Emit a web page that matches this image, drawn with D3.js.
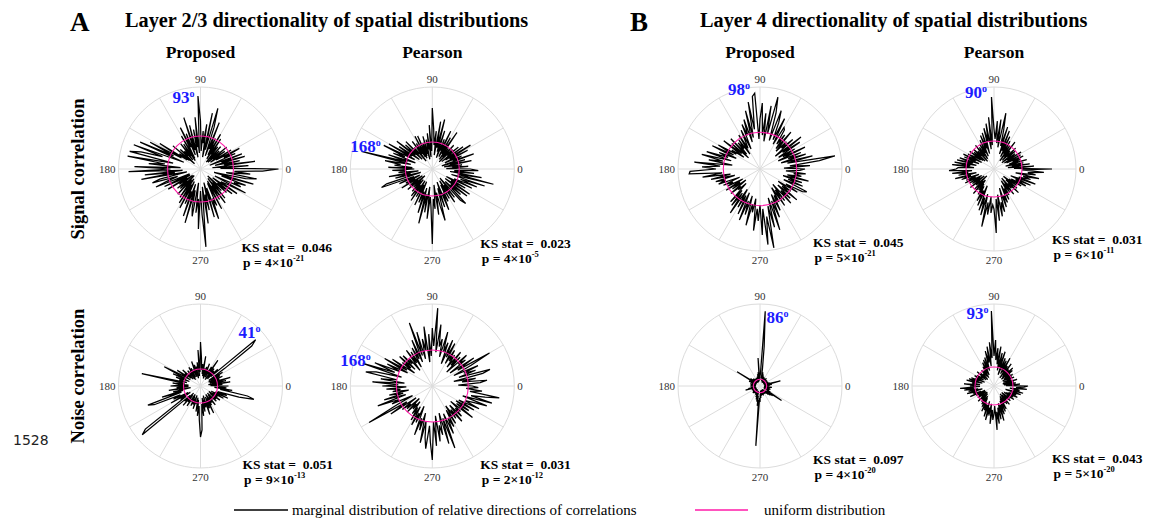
<!DOCTYPE html>
<html><head><meta charset="utf-8">
<script src="https://cdn.jsdelivr.net/npm/d3@7"></script>
<style>
body{margin:0;background:#fff}
svg text{font-family:"Liberation Serif","Times New Roman",serif}
</style>
</head><body>
<svg id="chart" width="1160" height="520"></svg>
<script>
// ---- data ----
const angleStep = 2;                         // bin width, degrees
const binAngles = d3.range(0, 360, angleStep);
const axisTickAngles = [0, 90, 180, 270];
const axisTickLabels = ["0", "90", "180", "270"];
const rowLabels = ["Signal correlation", "Noise correlation"];
const colLabels = ["Proposed", "Pearson"];
const panelLetters = ["A", "B"];
const panelTitles = ["Layer 2/3 directionality of spatial distributions", "Layer 4 directionality of spatial distributions"];
const legendLabels = ["marginal distribution of relative directions of correlations", "uniform distribution"];

const l23SignalProposed = [
78,20,48,12,55,24,40,15,46,22,44,10,38,26,44,
18,36,12,30,16,34,10,26,14,30,9,28,18,36,12,
40,16,34,22,50,14,44,63,20,57,12,45,26,38,18,
48,73,16,52,22,40,12,45,20,54,15,38,24,46,12,
38,10,30,16,32,12,24,18,28,8,36,14,26,16,48,
22,57,30,66,18,71,40,62,73,28,74,36,52,20,66,
30,72,18,56,26,60,14,42,50,24,36,48,12,40,26,
12,38,16,26,10,30,18,28,9,34,14,22,35,12,40,
18,44,14,38,24,50,16,56,22,40,48,14,44,30,60,
22,46,78,18,55,26,42,14,50,20,53,32,40,16,45,
14,36,20,42,12,38,18,30,10,35,22,40,15,44,24,
30,51,16,44,36,48,22,55,14,46,57,26,50,34,62];
const l23SignalPearson = [
38,14,36,20,30,12,40,18,34,10,44,22,32,14,40,
20,45,16,38,12,34,20,28,10,32,16,26,12,44,18,
36,14,42,20,32,12,40,18,51,22,48,14,38,24,40,
61,18,44,12,36,20,30,10,34,16,28,14,36,12,37,
14,30,18,34,10,28,20,38,14,36,22,45,16,40,24,
50,20,54,30,42,18,46,26,73,22,48,32,38,20,44,
18,40,26,34,14,44,22,38,12,48,54,20,36,14,30,
20,36,12,28,18,32,10,26,16,30,14,34,20,38,14,
32,18,40,14,36,24,46,20,56,26,44,18,50,28,38,
75,30,40,16,46,24,38,53,20,40,14,44,26,36,18,
34,14,40,20,36,12,42,48,18,38,24,44,16,45,22,
38,16,44,24,48,30,55,20,63,26,50,18,42,22,46];
const l23NoiseProposed = [
28,10,22,14,30,8,26,12,31,10,20,14,24,9,22,
12,26,10,30,65,72,14,24,10,20,12,22,8,31,14,
22,10,18,12,24,8,20,14,18,10,30,12,22,16,28,
44,14,36,10,24,16,20,8,22,12,26,10,18,14,20,
10,22,12,18,8,20,14,16,10,24,12,20,16,28,12,
24,41,16,30,12,26,18,22,14,60,20,16,28,12,22,
30,12,24,16,32,10,28,18,40,20,56,50,22,30,14,
34,12,24,18,70,76,14,22,10,26,12,20,16,24,10,
18,12,22,14,20,10,24,16,18,12,26,14,30,20,34,
51,44,18,30,12,26,14,22,10,30,16,24,12,30,14,
22,10,20,14,24,12,18,10,22,16,20,12,24,10,20,
14,26,12,30,16,28,18,40,55,48,20,32,14,26,18];
const l23NoisePearson = [
40,26,48,55,30,44,22,52,60,28,46,34,50,24,44,
66,30,50,22,42,34,46,20,40,28,44,24,38,30,42,
26,48,32,50,24,46,36,56,30,48,40,62,34,78,40,
58,30,52,24,60,36,48,28,56,32,67,26,50,30,43,
22,40,28,44,20,36,30,42,24,44,28,38,22,48,30,
55,28,50,36,62,40,73,32,58,68,36,52,28,60,34,
50,26,46,32,40,24,44,30,50,28,58,36,44,22,40,
73,30,50,20,38,28,34,18,36,24,30,20,34,26,40,
24,44,30,40,22,52,34,46,28,58,36,52,63,40,56,
74,36,60,30,56,40,50,28,60,34,66,30,52,36,46,
28,44,24,40,30,46,26,42,32,38,24,51,30,44,28,
48,30,52,36,44,58,32,62,40,54,68,38,50,34,46];
const l4SignalProposed = [
45,24,50,30,60,76,28,54,22,48,30,44,20,50,26,
40,22,48,28,52,20,44,30,38,24,48,26,42,30,46,
48,28,56,32,50,62,30,58,74,36,64,28,56,34,66,
50,30,76,73,40,68,32,60,28,52,36,48,22,43,30,
24,40,18,36,26,34,20,42,16,38,24,46,20,34,28,
48,30,53,26,44,34,56,30,60,38,52,28,66,40,58,
44,70,71,38,58,30,50,26,46,36,44,22,40,30,36,
20,40,24,34,18,38,26,30,20,44,28,46,30,53,24,
44,30,50,26,55,34,48,28,58,36,44,30,62,40,52,
36,66,40,76,48,80,38,60,30,64,34,52,28,46,30,
38,22,44,26,40,20,46,30,42,24,48,28,38,22,44,
30,48,52,26,46,30,44,24,50,28,42,34,46,26,40];
const l4SignalPearson = [
58,20,40,14,36,18,30,12,34,16,28,20,32,14,30,
12,32,16,26,10,28,18,30,12,24,16,34,10,28,18,
32,14,36,20,41,16,44,24,40,57,22,50,26,48,30,
40,72,24,52,20,46,28,42,16,38,22,36,14,32,18,
28,12,26,16,30,10,24,18,28,12,26,14,30,16,24,
30,14,34,20,32,16,36,22,38,18,40,24,42,20,36,
38,45,22,42,26,36,18,40,24,34,16,30,20,32,14,
28,16,26,12,30,18,24,10,28,16,32,14,26,18,30,
20,36,24,40,18,44,30,48,26,59,34,46,28,44,36,
40,64,30,52,26,48,34,44,20,40,28,36,18,34,22,
30,14,28,18,32,12,26,20,34,16,30,12,28,18,32,
20,36,24,40,18,44,26,38,30,46,22,42,34,50,28];
const l4NoiseProposed = [
8,4,10,5,12,6,9,21,6,10,4,8,5,9,4,
7,5,8,4,9,6,7,4,8,5,10,4,7,6,9,
5,8,4,10,6,9,5,12,7,14,8,18,40,75,12,
10,6,28,8,14,5,12,6,10,4,8,5,9,4,7,
5,8,4,9,6,7,5,10,4,8,6,12,5,10,27,
6,10,4,12,5,9,6,8,4,10,5,7,6,9,5,
10,4,8,5,9,6,12,5,15,6,8,4,9,5,7,
4,8,5,9,4,7,6,10,5,8,4,9,6,7,5,
9,5,10,6,8,12,5,14,7,16,10,20,14,60,12,
16,8,12,5,10,6,9,4,8,5,10,4,7,6,9,
5,8,4,9,6,10,5,12,6,14,8,16,10,26,8,
12,5,10,4,9,6,11,5,8,4,10,6,12,5,9];
const l4NoisePearson = [
34,12,26,10,22,14,20,9,24,12,18,10,22,14,20,
10,22,12,20,14,24,10,26,12,22,14,28,10,24,16,
32,14,28,18,30,12,36,20,34,16,40,22,38,26,46,
30,75,28,44,20,40,24,36,16,30,18,28,12,26,14,
22,10,18,12,20,14,16,9,18,12,22,10,16,14,20,
12,22,14,20,10,24,16,26,12,28,18,22,14,30,18,
24,14,34,20,30,16,26,12,28,18,22,14,26,10,20,
12,18,10,20,14,16,9,22,12,18,10,20,14,22,12,
24,14,28,18,26,20,32,16,35,22,30,18,38,24,34,
28,20,44,26,38,22,34,18,36,20,30,16,28,14,26,
12,20,14,22,10,24,12,18,14,22,10,20,16,24,12,
22,14,26,16,24,18,28,12,30,20,26,16,33,22,30];

const seriesList = [l23SignalProposed, l23SignalPearson, l23NoiseProposed, l23NoisePearson,
                    l4SignalProposed, l4SignalPearson, l4NoiseProposed, l4NoisePearson];
const uniformLevels = [33, 27, 17, 36, 36.7, 28, 6.7, 19];
const radialMax = 82;
const peakAngles = [93, 168, 41, 168, 98, 90, 86, 93];
const ksStats = ["0.046", "0.023", "0.051", "0.031", "0.045", "0.031", "0.097", "0.043"];
const pMantissas = ["4", "4", "9", "2", "5", "6", "4", "5"];
const pExponents = ["-21", "-5", "-13", "-12", "-21", "-11", "-20", "-20"];

// ---- layout ----
const R = 82;
const colX = [200.5, 432.3, 760, 994];
const rowY = [169, 386];
const peakLabelOffset = [[-28,-66.5],[-82,-17.5],[38,-48],[-92,-20.5],[-32,-74],[-29,-71.5],[6.5,-63.5],[-27.5,-67]];
const ksOffset = [[41,83],[48,79],[42,83],[48,83],[53,78],[58,75],[53,78],[58,77]];
const magenta = "#ff1aa8";
const blue = "#1c1cff";

const svg = d3.select("#chart");
const toRad = d => d * Math.PI / 180;

seriesList.forEach((vals, i) => {
  const layer = i < 4 ? 0 : 1;
  const row = (i >> 1) & 1;
  const col = i & 1;
  const cx = colX[layer * 2 + col], cy = rowY[row];
  const g = svg.append("g").attr("transform", `translate(${cx},${cy})`);
  const r = d3.scaleLinear().domain([0, radialMax]).range([0, R]);

  g.selectAll("line.spoke").data(d3.range(0, 360, 30)).join("line")
    .attr("x1", 0).attr("y1", 0)
    .attr("x2", d => R * Math.cos(toRad(d))).attr("y2", d => -R * Math.sin(toRad(d)))
    .attr("stroke", "#dcdcdc").attr("stroke-width", 1);
  g.append("circle").attr("r", R).attr("fill", "none").attr("stroke", "#dcdcdc").attr("stroke-width", 1);

  axisTickAngles.forEach((a, k) => {
    const t = g.append("text").text(axisTickLabels[k]).attr("font-size", 11).attr("fill", "#333");
    if (a === 0) t.attr("x", R + 3).attr("y", 4).attr("text-anchor", "start");
    if (a === 90) t.attr("x", 0).attr("y", -R - 4).attr("text-anchor", "middle");
    if (a === 180) t.attr("x", -R - 3).attr("y", 4).attr("text-anchor", "end");
    if (a === 270) t.attr("x", 0).attr("y", R + 12.5).attr("text-anchor", "middle");
  });

  const pts = vals.map((v, k) => ({a: binAngles[k], v}));
  const line = d3.lineRadial()
    .angle(d => toRad(90 - d.a))
    .radius(d => r(d.v))
    .curve(d3.curveLinearClosed);
  g.append("path").attr("d", line(pts)).attr("fill", "none")
    .attr("stroke", "#000").attr("stroke-width", 1.25).attr("stroke-linejoin", "miter");

  g.append("circle").attr("r", r(uniformLevels[i])).attr("fill", "none")
    .attr("stroke", magenta).attr("stroke-width", 1.1);

  const pl = g.append("text").attr("x", peakLabelOffset[i][0]).attr("y", peakLabelOffset[i][1])
    .attr("font-size", 17).attr("font-weight", "bold").attr("fill", blue);
  pl.append("tspan").text(peakAngles[i]);
  pl.append("tspan").text("o").attr("font-size", 10).attr("dy", -6);

  const [kx, ky] = ksOffset[i];
  g.append("text").attr("x", kx).attr("y", ky).attr("font-size", 13.5).attr("font-weight", "bold")
    .style("white-space", "pre").text("KS stat =  " + ksStats[i]);
  const pt = g.append("text").attr("x", kx + 1.5).attr("y", ky + 14.5).attr("font-size", 13.5).attr("font-weight", "bold")
    .style("white-space", "pre");
  pt.append("tspan").text("p = " + pMantissas[i] + "\u00d710");
  pt.append("tspan").text(pExponents[i]).attr("font-size", 8.5).attr("dy", -5.5);
});

const letterX = [70, 630], titleX = [125, 700];
panelLetters.forEach((L, k) => {
  svg.append("text").attr("x", letterX[k]).attr("y", 31).attr("font-size", 27).attr("font-weight", "bold").text(L);
  svg.append("text").attr("x", titleX[k]).attr("y", 27).attr("font-size", 20.3).attr("font-weight", "bold").text(panelTitles[k]);
});
colX.forEach((x, k) => {
  svg.append("text").attr("x", x).attr("y", 58).attr("text-anchor", "middle")
    .attr("font-size", 17.5).attr("font-weight", "bold").text(colLabels[k % 2]);
});
const rowLabelY = [169, 376];
rowLabels.forEach((t, k) => {
  svg.append("text").attr("transform", `translate(84,${rowLabelY[k]}) rotate(-90)`)
    .attr("text-anchor", "middle").attr("font-size", 18.5).attr("font-weight", "bold").text(t);
});
svg.append("text").attr("x", 13).attr("y", 445).attr("font-size", 14)
  .style("font-family", "'DejaVu Sans', sans-serif").attr("fill", "#222").text("1528");

const lg = svg.append("g");
lg.append("line").attr("x1", 234).attr("x2", 288).attr("y1", 510).attr("y2", 510).attr("stroke", "#000").attr("stroke-width", 1.3);
lg.append("text").attr("x", 292).attr("y", 515).attr("font-size", 15).text(legendLabels[0]);
lg.append("line").attr("x1", 695).attr("x2", 748).attr("y1", 510).attr("y2", 510).attr("stroke", magenta).attr("stroke-width", 1.3);
lg.append("text").attr("x", 764).attr("y", 515).attr("font-size", 15).text(legendLabels[1]);
</script>
</body></html>
